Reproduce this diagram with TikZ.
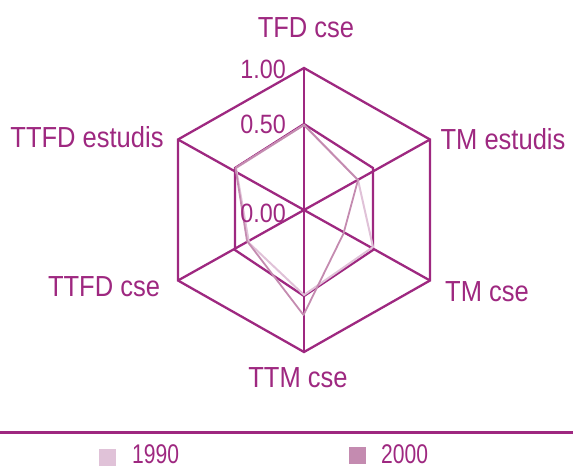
\documentclass[tikz,border=0pt]{standalone}
\usepackage{fontspec}
\setmainfont{Liberation Sans}[FakeStretch=0.88]
\newfontfamily\legfont{Liberation Sans}[FakeStretch=0.78]
\definecolor{chartpurple}{RGB}{158,40,128}
\definecolor{cninety}{RGB}{224,194,216}
\definecolor{ctwothousand}{RGB}{196,139,176}
\begin{document}
\begin{tikzpicture}[x=1pt,y=-1pt,
  gridline/.style={draw=chartpurple,line width=2.3pt,line join=miter},
  serA/.style={draw=cninety,line width=2pt,line join=round},
  serB/.style={draw=ctwothousand,line width=1.8pt,line join=round},
  axislabel/.style={text=chartpurple,font=\fontsize{26.5}{29}\selectfont,inner sep=0pt,anchor=east},
  catlabel/.style={text=chartpurple,font=\fontsize{29}{32}\selectfont,inner sep=0pt},
  legtext/.style={text=chartpurple,font=\legfont\fontsize{27}{29}\selectfont,inner sep=0pt,anchor=west},
  legbox/.style={minimum size=17pt,inner sep=0pt}]
\useasboundingbox (0,0) rectangle (573,468);
% centre and rings
\coordinate (c) at (304,210);
\coordinate (o1) at (304,68);
\coordinate (o2) at (430,139.5);
\coordinate (o3) at (430,280.5);
\coordinate (o4) at (304,352);
\coordinate (o5) at (178,280.5);
\coordinate (o6) at (178,139.5);
\coordinate (m1) at (304,124);
\coordinate (m2) at (373,168);
\coordinate (m3) at (373,250);
\coordinate (m4) at (304,296);
\coordinate (m5) at (235,250);
\coordinate (m6) at (235,168);
\draw[gridline] (o1) -- (o2) -- (o3) -- (o4) -- (o5) -- (o6) -- cycle;
\draw[gridline] (m1) -- (m2) -- (m3) -- (m4) -- (m5) -- (m6) -- cycle;
\draw[gridline] (o1) -- (o4);
\draw[gridline] (o2) -- (o5);
\draw[gridline] (o3) -- (o6);
% series 1990
\coordinate (a1) at (304,125);
\coordinate (a2) at (358,180);
\coordinate (a3) at (373,247);
\coordinate (a4) at (304,295);
\coordinate (a5) at (249,243);
\coordinate (a6) at (236,168);
\draw[serA] (a1) -- (a2) -- (a3) -- (a4) -- (a5) -- (a6) -- cycle;
% series 2000
\coordinate (b1) at (304,125);
\coordinate (b2) at (358,180);
\coordinate (b3) at (343.5,233.5);
\coordinate (b4) at (303.5,315);
\coordinate (b5) at (247,241);
\coordinate (b6) at (235.5,168);
\draw[serB] (b1) -- (b2) -- (b3) -- (b4) -- (b5) -- (b6) -- cycle;
% axis labels
\node[axislabel] (l100) at (286,69) {1.00};
\node[axislabel] (l050) at (286,124) {0.50};
\node[axislabel] (l000) at (286,213) {0.00};
% category labels
\node[catlabel] (tfd) at (306,28) {TFD cse};
\node[catlabel] (tme) at (503,139) {TM estudis};
\node[catlabel] (tmc) at (487,292) {TM cse};
\node[catlabel] (ttm) at (298,378) {TTM cse};
\node[catlabel] (ttfdc) at (104,287) {TTFD cse};
\node[catlabel] (ttfde) at (87,137) {TTFD estudis};
% legend
\coordinate (rl) at (0,432.5);
\coordinate (rr) at (573,432.5);
\draw[draw=chartpurple,line width=2.5pt] (rl) -- (rr);
\node[legbox,fill=cninety] (k1) at (107.5,457) {};
\node[legtext] (t1) at (132,454.5) {1990};
\node[legbox,fill=ctwothousand] (k2) at (357,455) {};
\node[legtext] (t2) at (381,454.5) {2000};
\end{tikzpicture}
\end{document}
